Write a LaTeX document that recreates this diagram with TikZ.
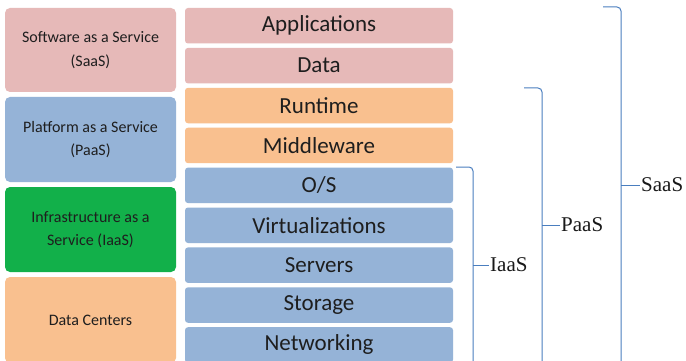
\documentclass[tikz,border=0pt]{standalone}
\usepackage{fontspec}
\setmainfont{Carlito}
\newfontfamily\timesfont{Liberation Serif}
\definecolor{saaspink}{HTML}{E6B9B8}
\definecolor{paasorange}{HTML}{F9C08F}
\definecolor{iaasblue}{HTML}{95B3D7}
\definecolor{iaasgreen}{HTML}{12B04A}
\definecolor{bracecol}{HTML}{4A7EBF}
\definecolor{txt}{HTML}{1E1E1E}
\tikzset{
	layer/.style={rounded corners=3pt,minimum width=268pt,minimum height=35.5pt,inner sep=0pt,text=txt,font=\fontsize{23}{26}\selectfont,fill=#1},
	model/.style={rounded corners=5pt,minimum width=171pt,inner sep=0pt,align=center,text=txt,font=\fontsize{16}{23.5}\selectfont,fill=#1},
	brace/.style={draw=bracecol,line width=1pt,rounded corners=4pt},
	bracelabel/.style={anchor=west,inner sep=1pt,text=black!90,font=\timesfont\fontsize{21}{24}\selectfont}
}

\begin{document}
\begin{tikzpicture}[x=1pt,y=-1pt]
						\clip (0,0) rectangle (686,361);
						\fill [white] (0,0) rectangle (686,361);

						\node [model=saaspink,minimum height=84pt] (saas) at (90.5,50) {Software as a Service\\(SaaS)};
						\node [model=iaasblue,minimum height=85pt] (paas) at (90.5,139.5) {Platform as a Service\\(PaaS)};
						\node [model=iaasgreen,minimum height=85pt] (iaas) at (90.5,229.5) {Infrastructure as a\\Service (IaaS)};
						\node [model=paasorange,minimum height=86pt] (dc) at (90.5,320) {Data Centers};

						\node [layer=saaspink] (apps) at (319,25.75) {Applications};
						\node [layer=saaspink] (data) at (319,65.65) {Data};
						\node [layer=paasorange] (runtime) at (319,105.55) {Runtime};
						\node [layer=paasorange] (middleware) at (319,145.45) {Middleware};
						\node [layer=iaasblue] (os) at (319,185.35) {O/S};
						\node [layer=iaasblue] (virt) at (319,225.25) {Virtualizations};
						\node [layer=iaasblue] (servers) at (319,265.15) {Servers};
						\node [layer=iaasblue] (storage) at (319,305.05) {Storage};
						\node [layer=iaasblue] (net) at (319,344.95) {Networking};

						\coordinate (iaas top) at (456,167);
						\coordinate (iaas end) at (473,366);
						\node [bracelabel] (iaas label) at (489,265) {IaaS};
						\draw [brace] (iaas top) -| (iaas end);
						\draw [brace] (iaas end |- iaas label) -- (iaas label.west);

						\coordinate (paas top) at (524,88);
						\coordinate (paas end) at (542,366);
						\node [bracelabel] (paas label) at (560,225) {PaaS};
						\draw [brace] (paas top) -| (paas end);
						\draw [brace] (paas end |- paas label) -- (paas label.west);

						\coordinate (saas top) at (603,7);
						\coordinate (saas end) at (621,366);
						\node [bracelabel] (saas label) at (640,185) {SaaS};
						\draw [brace] (saas top) -| (saas end);
						\draw [brace] (saas end |- saas label) -- (saas label.west);
					\end{tikzpicture}
\end{document}
